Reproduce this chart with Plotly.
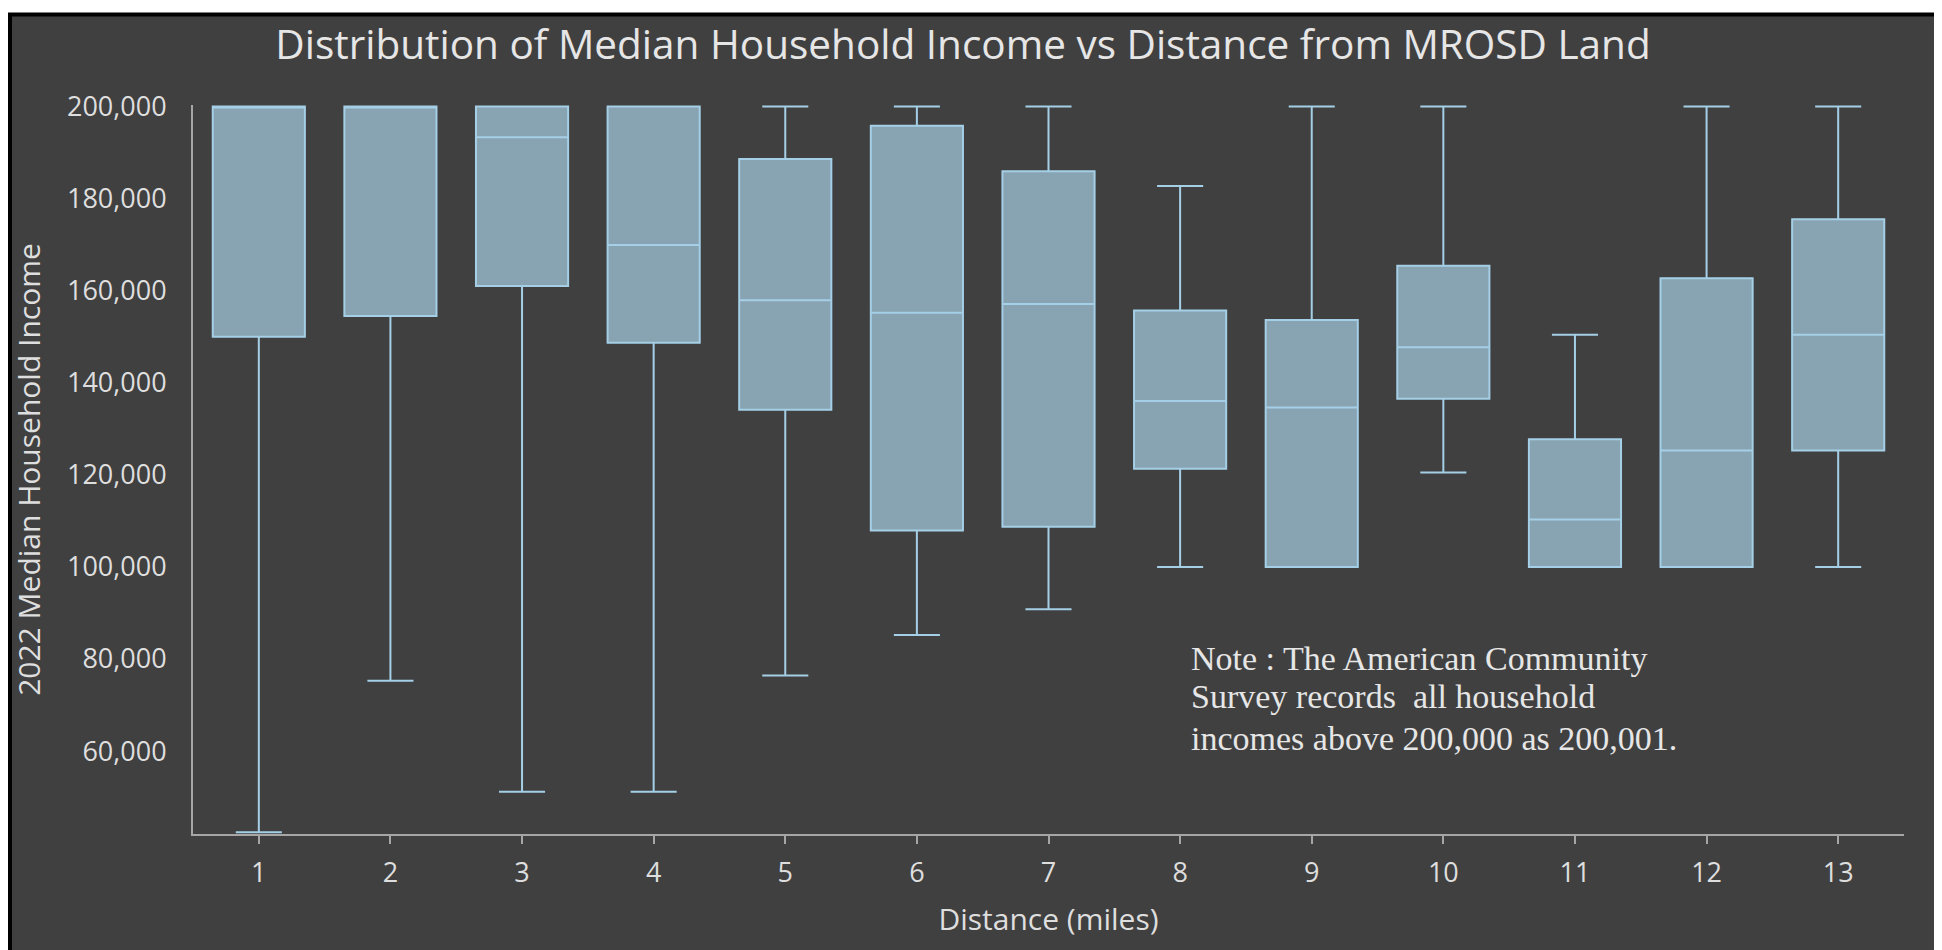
import plotly.graph_objects as go

# ---- data ----
distance = [1, 2, 3, 4, 5, 6, 7, 8, 9, 10, 11, 12, 13]
lower_fence = [42400, 75300, 51200, 51200, 76400, 85200, 90800, 100000, 100000, 120500, 100000, 100000, 100000]
q1_vals = [150000, 154500, 161000, 148700, 134100, 107900, 108700, 121300, 100000, 136500, 100000, 100000, 125300]
median_vals = [200001, 200001, 193300, 169900, 157900, 155200, 157100, 136000, 134600, 147700, 110300, 125300, 150400]
q3_vals = [200001, 200001, 200001, 200001, 188600, 195800, 185900, 155700, 153600, 165400, 127700, 162700, 175500]
upper_fence = [200001, 200001, 200001, 200001, 200001, 200001, 200001, 182700, 200001, 200001, 150400, 200001, 200001]
y_ticks = [60000, 80000, 100000, 120000, 140000, 160000, 180000, 200000]
note_lines = [
    "Note : The American Community",
    "Survey records  all household",
    "incomes above 200,000 as 200,001.",
]

# page body has an 8px margin, so the figure is 8px smaller than the window
W, H = 1934, 942
ML, MR, MT, MB = 185, 38, 97, 116
PW, PH = W - ML - MR, H - MT - MB


def px_x(p):
    return (p - ML) / PW


def px_y(p):
    return (H - MB - p) / PH


fig = go.Figure()
fig.add_trace(go.Box(
    x=distance,
    q1=q1_vals, median=median_vals, q3=q3_vals,
    lowerfence=lower_fence, upperfence=upper_fence,
    fillcolor="#88a3b1",
    line=dict(color="#a4cfe6", width=2),
    whiskerwidth=0.5,
    boxpoints=False,
    showlegend=False,
))

font_sans = "Open Sans"
text_col = "#dedede"

note_y = [650, 688, 730]
annotations = []
for line, yy in zip(note_lines, note_y):
    annotations.append(dict(
        text=line, xref="paper", yref="paper", x=px_x(1181), y=px_y(yy),
        xanchor="left", yanchor="middle", align="left", showarrow=False,
        font=dict(family="Liberation Serif", size=34, color="#e6e6e6"),
    ))

fig.update_layout(
    width=W, height=H,
    margin=dict(l=ML, r=MR, t=MT, b=MB),
    paper_bgcolor="white",
    plot_bgcolor="rgba(0,0,0,0)",
    boxgap=0.3,
    boxgroupgap=0,
    title=dict(
        text="Distribution of Median Household Income vs Distance from MROSD Land",
        x=955 / W, xref="container", xanchor="center",
        y=1 - 37 / H, yref="container", yanchor="middle",
        font=dict(family=font_sans, size=40.5, color="#e6e6e6"),
    ),
    xaxis=dict(
        range=[0.5, 13.5],
        tickmode="array", tickvals=distance, ticktext=[str(d) for d in distance],
        showgrid=False, zeroline=False,
        showline=True, linecolor="#a6a6a6", linewidth=2,
        ticks="outside", ticklen=8, tickwidth=2, tickcolor="#a6a6a6",
        ticklabelstandoff=6,
        tickfont=dict(family=font_sans, size=27, color=text_col),
        title=dict(text="Distance (miles)", standoff=20,
                   font=dict(family=font_sans, size=30, color=text_col)),
    ),
    yaxis=dict(
        range=[42000, 200300],
        tickmode="array", tickvals=y_ticks,
        tickformat=",",
        showgrid=False, zeroline=False,
        showline=True, linecolor="#a6a6a6", linewidth=2,
        ticks="", ticklabelstandoff=19,
        tickfont=dict(family=font_sans, size=27, color=text_col),
        title=dict(text="2022 Median Household Income", standoff=23,
                   font=dict(family=font_sans, size=30, color=text_col)),
    ),
    shapes=[
        dict(type="rect", xref="paper", yref="paper", layer="below",
             x0=px_x(2), x1=px_x(1929), y0=px_y(960), y1=px_y(6.5),
             fillcolor="#404040", line=dict(color="black", width=4)),
    ],
    annotations=annotations,
)

fig.write_html("out.html")
